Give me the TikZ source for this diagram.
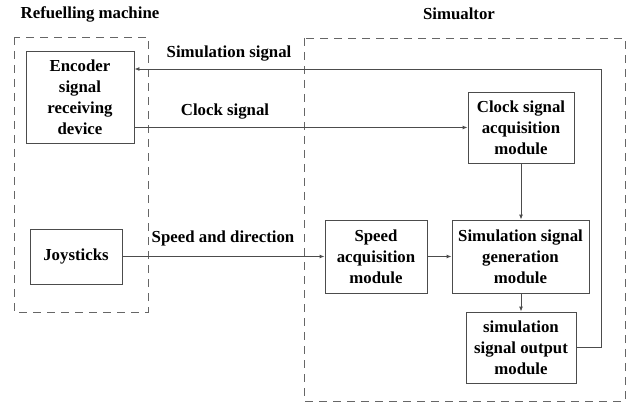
\documentclass[tikz,border=0pt]{standalone}
\usepackage{fontspec}
\setmainfont{Liberation Serif}
\usetikzlibrary{arrows.meta}

\begin{document}
\begin{tikzpicture}[x=1pt, y=-1pt,
  txt/.style={font=\bfseries\fontsize{16.8}{21}\selectfont},
  box/.style={txt, draw=black!70, line width=0.9pt, align=center, inner sep=0pt},
  group/.style={draw=black!60, line width=0.9pt, dash pattern=on 8pt off 6pt},
  link/.style={draw=black!70, line width=0.9pt, -{Latex[length=5pt,width=4pt]}}]
\useasboundingbox (0,0) rectangle (628,403);

% dashed groups
\draw[group] (14,37) rectangle (148,312);
\draw[group] (304,38) rectangle (625,401);

% titles
\node[txt] (tref) at (90,14) {Refuelling machine};
\node[txt] (tsim) at (459,14) {Simualtor};

% blocks
\node[box, minimum width=108pt, minimum height=92pt] (enc) at (80,97)
  {Encoder\\signal\\receiving\\device};
\node[box, minimum width=92pt, minimum height=55pt] (joy) at (76,256.5) {Joysticks};
\node[box, minimum width=102pt, minimum height=73pt] (spd) at (376,256.5)
  {Speed\\acquisition\\module};
\node[box, minimum width=137pt, minimum height=73pt] (gen) at (520.5,256.5)
  {Simulation signal\\generation\\module};
\node[box, minimum width=110pt, minimum height=71pt] (out) at (521,347.5)
  {simulation\\signal output\\module};
\node[box, minimum width=106pt, minimum height=71pt] (clk) at (521,127.5)
  {Clock signal\\acquisition\\module};

% connectors
\coordinate (ret) at (601,69);
\draw[link] (out.east) -| (ret) -- (ret -| enc.east);
\draw[link] (enc.east |- clk.west) -- (clk.west);
\draw[link] (joy.east) -- (spd.west);
\draw[link] (spd.east) -- (gen.west);
\draw[link] (clk.south) -- (clk.south |- gen.north);
\draw[link] (gen.south -| out.north) -- (out.north);

% connector labels
\node[txt] (lsim) at (229,54) {Simulation signal};
\node[txt] (lclk) at (225,112) {Clock signal};
\node[txt] (lspd) at (223,238) {Speed and direction};
\end{tikzpicture}
\end{document}
